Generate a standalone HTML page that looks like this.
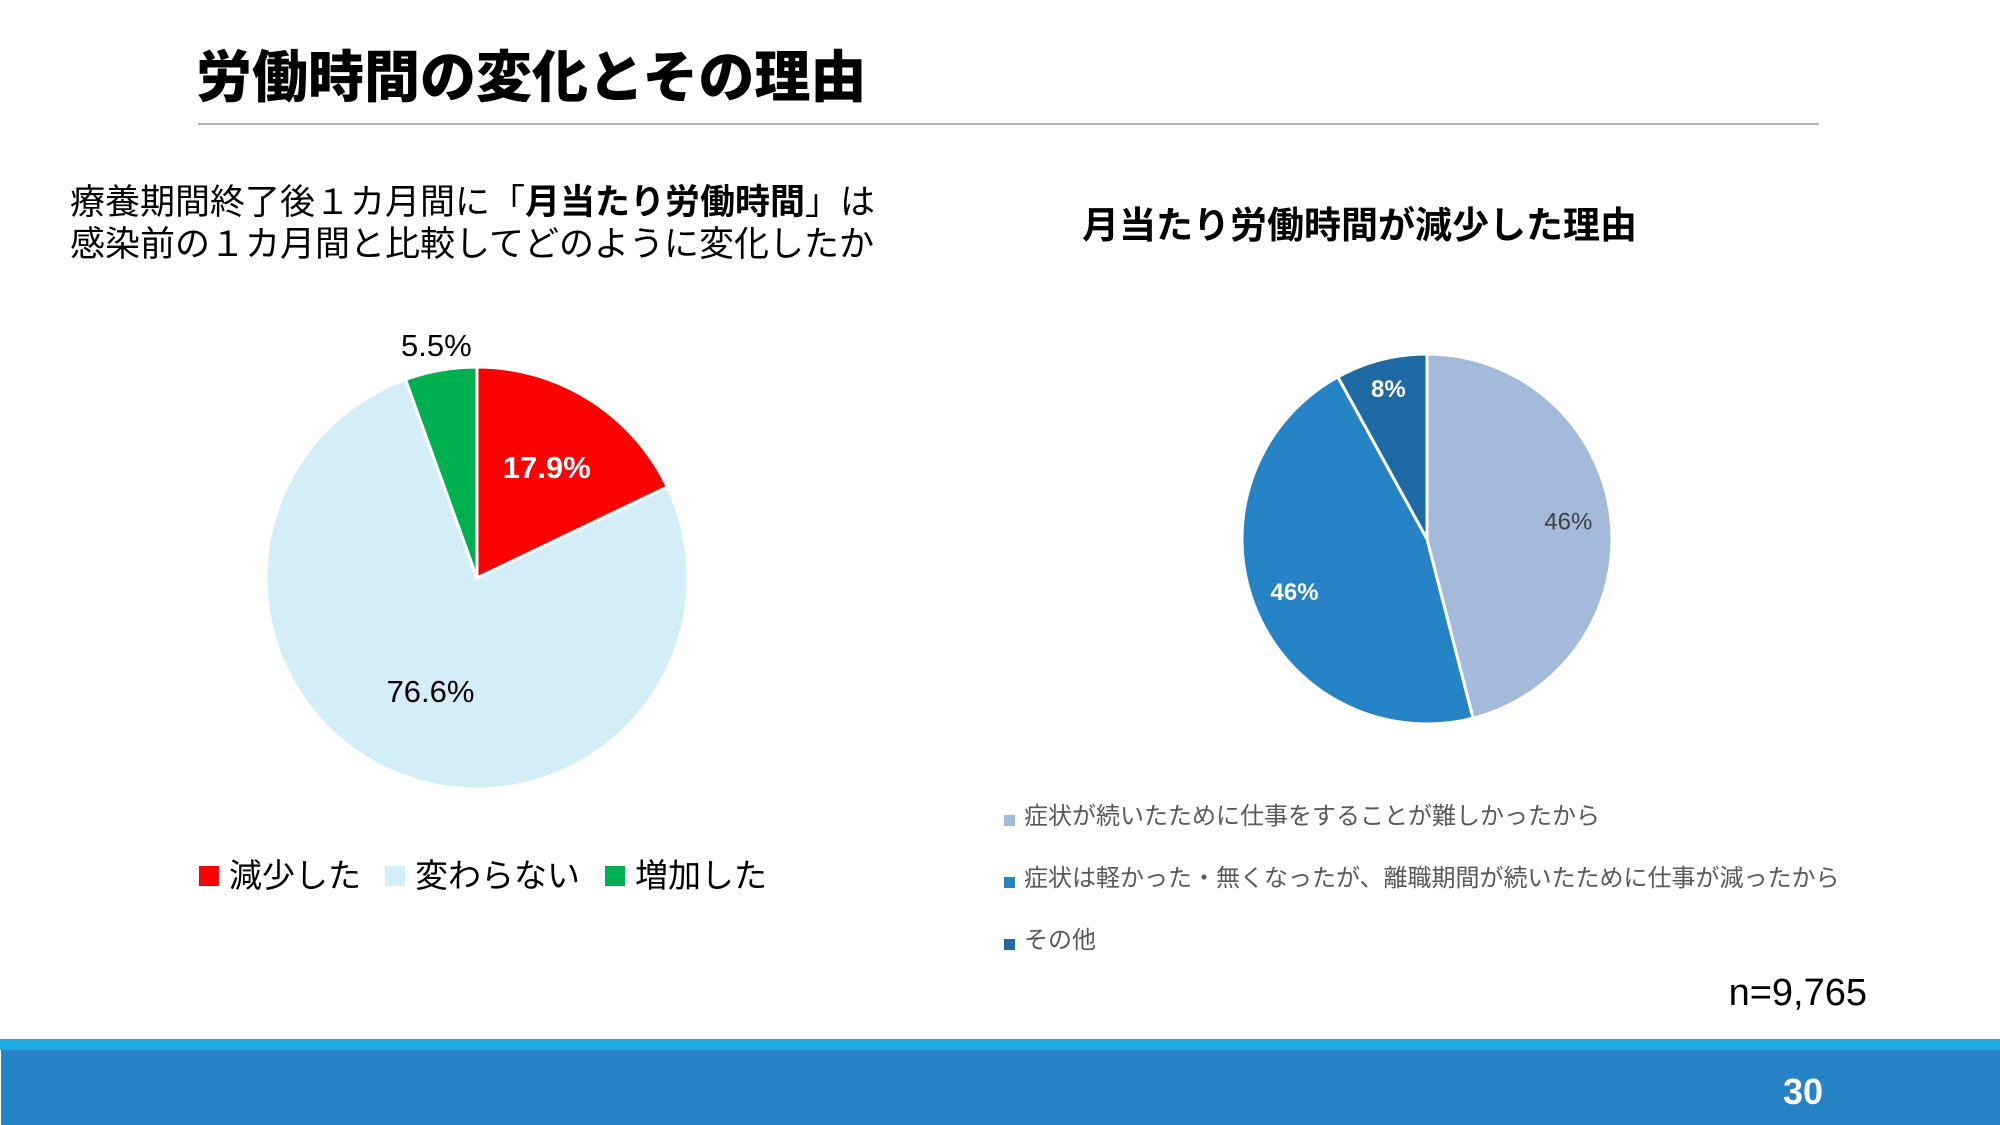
<!DOCTYPE html>
<html><head><meta charset="utf-8"><style>
body{margin:0;width:2000px;height:1125px;overflow:hidden;background:#fff;font-family:"Liberation Sans","Noto Sans CJK JP",sans-serif;}
svg{display:block}
</style></head><body>
<svg width="2000" height="1125" viewBox="0 0 2000 1125" xmlns="http://www.w3.org/2000/svg" font-family="Liberation Sans, Noto Sans CJK JP, sans-serif">
<text x="196" y="97" font-size="56" font-weight="900" fill="#000">労働時間の変化とその理由</text>
<line x1="198" y1="124" x2="1819" y2="124" stroke="#888" stroke-width="1.3"/>
<text font-size="35" fill="#000"><tspan x="70" y="214">療養期間終了後１カ月間に「<tspan font-weight="bold">月当たり労働時間</tspan>」は</tspan><tspan x="70" y="256">感染前の１カ月間と比較してどのように変化したか</tspan></text>
<text x="1082" y="238" font-size="37" font-weight="bold" fill="#000">月当たり労働時間が減少した理由</text>
<g id="left-pie"></g>
<g id="right-pie"></g>
<g font-size="33" fill="#000">
<rect x="199" y="866" width="20" height="20" fill="#FF0000"/>
<text x="229" y="887">減少した</text>
<rect x="385" y="866" width="20" height="20" fill="#D4EEF8"/>
<text x="415" y="887">変わらない</text>
<rect x="605" y="866" width="20" height="20" fill="#00B050"/>
<text x="635" y="887">増加した</text>
</g>
<g font-size="24" fill="#595959">
<rect x="1004" y="815" width="11" height="11" fill="#A3BADB"/>
<text x="1024" y="824">症状が続いたために仕事をすることが難しかったから</text>
<rect x="1004" y="877" width="11" height="11" fill="#2683C6"/>
<text x="1024" y="886">症状は軽かった・無くなったが、離職期間が続いたために仕事が減ったから</text>
<rect x="1004" y="939" width="11" height="11" fill="#1F6AA5"/>
<text x="1024" y="948">その他</text>
</g>
<text x="1867" y="1005" font-size="38" text-anchor="end" fill="#000">n=9,765</text>
<rect x="0" y="1039" width="2000" height="11" fill="#1EABE3"/>
<rect x="1" y="1050" width="1999" height="75" fill="#2683C6"/>
<text x="1803" y="1104" font-size="36" font-weight="bold" fill="#fff" text-anchor="middle">30</text>
</svg>
<script>
const leftCats=['減少した','変わらない','増加した'];
const leftValues=[17.9,76.6,5.5];
const leftLabels=['17.9%','76.6%','5.5%'];
const rightCats=['症状が続いたために仕事をすることが難しかったから','症状は軽かった・無くなったが、離職期間が続いたために仕事が減ったから','その他'];
const rightValues=[46,46,8];
const rightLabels=['46%','46%','8%'];
const NS='http://www.w3.org/2000/svg';
function pie(g,cx,cy,r,vals,colors,labels,labelCfg){
  const tot=vals.reduce((a,b)=>a+b,0);let a0=0;
  vals.forEach((v,i)=>{
    const a1=a0+v/tot*2*Math.PI;
    const p=(a)=>[cx+r*Math.sin(a),cy-r*Math.cos(a)];
    const [x0,y0]=p(a0),[x1,y1]=p(a1);
    const path=document.createElementNS(NS,'path');
    path.setAttribute('d',`M${cx},${cy}L${x0},${y0}A${r},${r} 0 ${(a1-a0)>Math.PI?1:0} 1 ${x1},${y1}Z`);
    path.setAttribute('fill',colors[i]);path.setAttribute('stroke','#fff');path.setAttribute('stroke-width','3');
    
    
    g.appendChild(path);
    const c=labelCfg[i];const am=(a0+a1)/2;
    const t=document.createElementNS(NS,'text');
    t.setAttribute('x',cx+c.d*r*Math.sin(am));t.setAttribute('y',cy-c.d*r*Math.cos(am)+c.fs*0.35);
    t.setAttribute('font-size',c.fs);t.setAttribute('fill',c.fill);t.setAttribute('text-anchor','middle');
    if(c.bold)t.setAttribute('font-weight','bold');
    t.textContent=labels[i];
    
    
    g.appendChild(t);
    a0=a1;
  });
}
pie(document.getElementById('left-pie'),477,578,211,leftValues,['#FF0000','#D4EEF8','#00B050'],leftLabels,
 [{d:0.62,fs:31,fill:'#fff',bold:true},{d:0.58,fs:31,fill:'#000'},{d:1.12,fs:31,fill:'#000'}]);
pie(document.getElementById('right-pie'),1427,539,185,rightValues,['#A3BADB','#2683C6','#1F6AA5'],rightLabels,
 [{d:0.77,fs:24,fill:'#404040'},{d:0.77,fs:24,fill:'#fff',bold:true},{d:0.84,fs:24,fill:'#fff',bold:true}]);
</script>
</body></html>
